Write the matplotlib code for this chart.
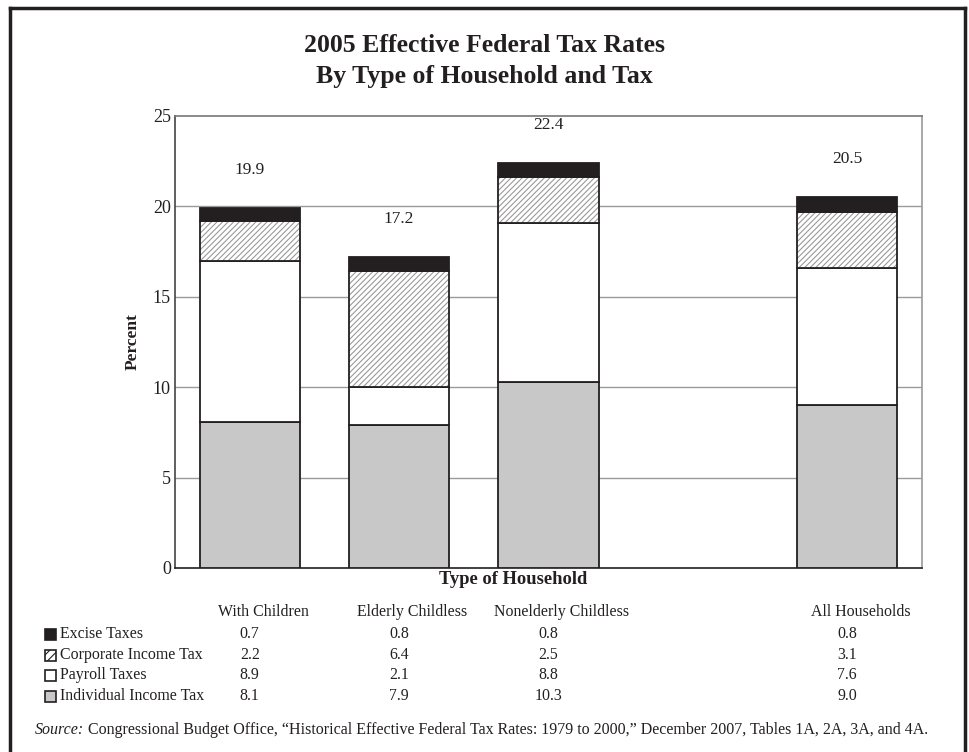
import matplotlib
matplotlib.use('Agg')
import matplotlib.pyplot as plt
import matplotlib.transforms as mtransforms
from matplotlib.patches import Rectangle
from matplotlib.lines import Line2D
import numpy as np

plt.rcParams['font.family'] = ['Liberation Serif', 'DejaVu Serif']
plt.rcParams['hatch.color'] = '#9a9a9a'
plt.rcParams['hatch.linewidth'] = 0.8

# data
households = ['With Children', 'Elderly Childless', 'Nonelderly Childless', 'All Households']
positions = [0, 1, 2, 4]
individual = [8.1, 7.9, 10.3, 9.0]
payroll = [8.9, 2.1, 8.8, 7.6]
corporate = [2.2, 6.4, 2.5, 3.1]
excise = [0.7, 0.8, 0.8, 0.8]
totals = [19.9, 17.2, 22.4, 20.5]
yticks = [0, 5, 10, 15, 20, 25]

W, H = 969, 752
fig = plt.figure(figsize=(W / 100, H / 100), dpi=100)

def fx(px):
    return px / W

def fy(py):
    return 1 - py / H

# outer frame
fig.add_artist(Line2D([fx(10), fx(10)], [fy(8), 0], color='#231f20', lw=2.5, transform=fig.transFigure))
fig.add_artist(Line2D([fx(10), fx(965)], [fy(8), fy(8)], color='#231f20', lw=2.5, transform=fig.transFigure))
fig.add_artist(Line2D([fx(965), fx(965)], [fy(8), 0], color='#231f20', lw=2.5, transform=fig.transFigure))

ax = fig.add_axes([fx(175), fy(568), fx(922) - fx(175), fy(116) - fy(568)])

width = 0.67
edge = '#231f20'
ind = np.array(individual)
pay = np.array(payroll)
cor = np.array(corporate)
exc = np.array(excise)

ax.bar(positions, ind, width, color='#c8c8c8', edgecolor=edge, linewidth=1.3, zorder=3)
ax.bar(positions, pay, width, bottom=ind, color='white', edgecolor=edge, linewidth=1.3, zorder=3)
ax.bar(positions, cor, width, bottom=ind + pay, color='white', edgecolor='#9a9a9a',
       hatch='//////', linewidth=0, zorder=3)
ax.bar(positions, cor, width, bottom=ind + pay, color='none', edgecolor=edge, linewidth=1.3, zorder=4)
ax.bar(positions, exc, width, bottom=ind + pay + cor, color='#231f20', edgecolor=edge, linewidth=1.3, zorder=4)

for p, t in zip(positions, totals):
    ax.text(p, t + 2.1, f'{t:.1f}', ha='center', va='center', fontsize=12.5, color='#231f20')

ax.set_xlim(-0.5, 4.5)
ax.set_ylim(0, 25)
ax.set_yticks(yticks)
ax.set_yticklabels([str(v) for v in yticks], fontsize=13, color='#231f20')
ax.tick_params(axis='y', length=0, pad=3)
ax.set_xticks([])
for v in yticks[1:-1]:
    ax.axhline(v, color='#9a9a9a', lw=1, zorder=1)
ax.spines['left'].set_color('#444444')
ax.spines['bottom'].set_color('#231f20')
ax.spines['top'].set_color('#777777')
ax.spines['right'].set_color('#999999')
for s in ax.spines.values():
    s.set_linewidth(1.2)

ax.set_ylabel('Percent', fontsize=12.5, fontweight='bold', labelpad=9, color='#231f20')

# title
fig.text(0.5, fy(46), '2005 Effective Federal Tax Rates', ha='center', va='center',
         fontsize=18.5, fontweight='bold', color='#231f20')
fig.text(0.5, fy(76), 'By Type of Household and Tax', ha='center', va='center',
         fontsize=18.5, fontweight='bold', color='#231f20')

fig.text(fx(513), fy(579), 'Type of Household', ha='center', va='center',
         fontsize=13.3, fontweight='bold', color='#231f20')

# table below the chart
tr = mtransforms.blended_transform_factory(ax.transData, fig.transFigure)
for p, name in zip(positions, households):
    fig.text(p + 0.09, fy(612), name, ha='center', va='center', fontsize=11.4,
             color='#231f20', transform=tr)

rows = [
    ('Excise Taxes', excise, dict(facecolor='#231f20', edgecolor='#231f20')),
    ('Corporate Income Tax', corporate, dict(facecolor='white', edgecolor='#231f20', hatch='////')),
    ('Payroll Taxes', payroll, dict(facecolor='white', edgecolor='#231f20')),
    ('Individual Income Tax', individual, dict(facecolor='#c8c8c8', edgecolor='#231f20')),
]
row_y = [634, 655, 675, 696]
for (label, vals, style), yy in zip(rows, row_y):
    fig.add_artist(Rectangle((fx(45), fy(yy + 5.5)), fx(11), 11 / H, lw=1.2,
                             transform=fig.transFigure, **style))
    fig.text(fx(60), fy(yy), label, ha='left', va='center', fontsize=11.4, color='#231f20')
    for p, v in zip(positions, vals):
        fig.text(p, fy(yy), f'{v:.1f}', ha='center', va='center', fontsize=11.4,
                 color='#231f20', transform=tr)

# source line: italic "Source:" then the rest right after it
src = fig.text(fx(35), fy(730), 'Source:', ha='left', va='center', fontsize=11.5,
               fontstyle='italic', color='#231f20')
fig.canvas.draw()
bb = src.get_window_extent(renderer=fig.canvas.get_renderer())
fig.text((bb.x1 + 4) / W, fy(730),
         'Congressional Budget Office, \u201cHistorical Effective Federal Tax Rates: 1979 to 2000,\u201d December 2007, Tables 1A, 2A, 3A, and 4A.',
         ha='left', va='center', fontsize=11.5, color='#231f20')

fig.savefig('out.png', dpi=100)
